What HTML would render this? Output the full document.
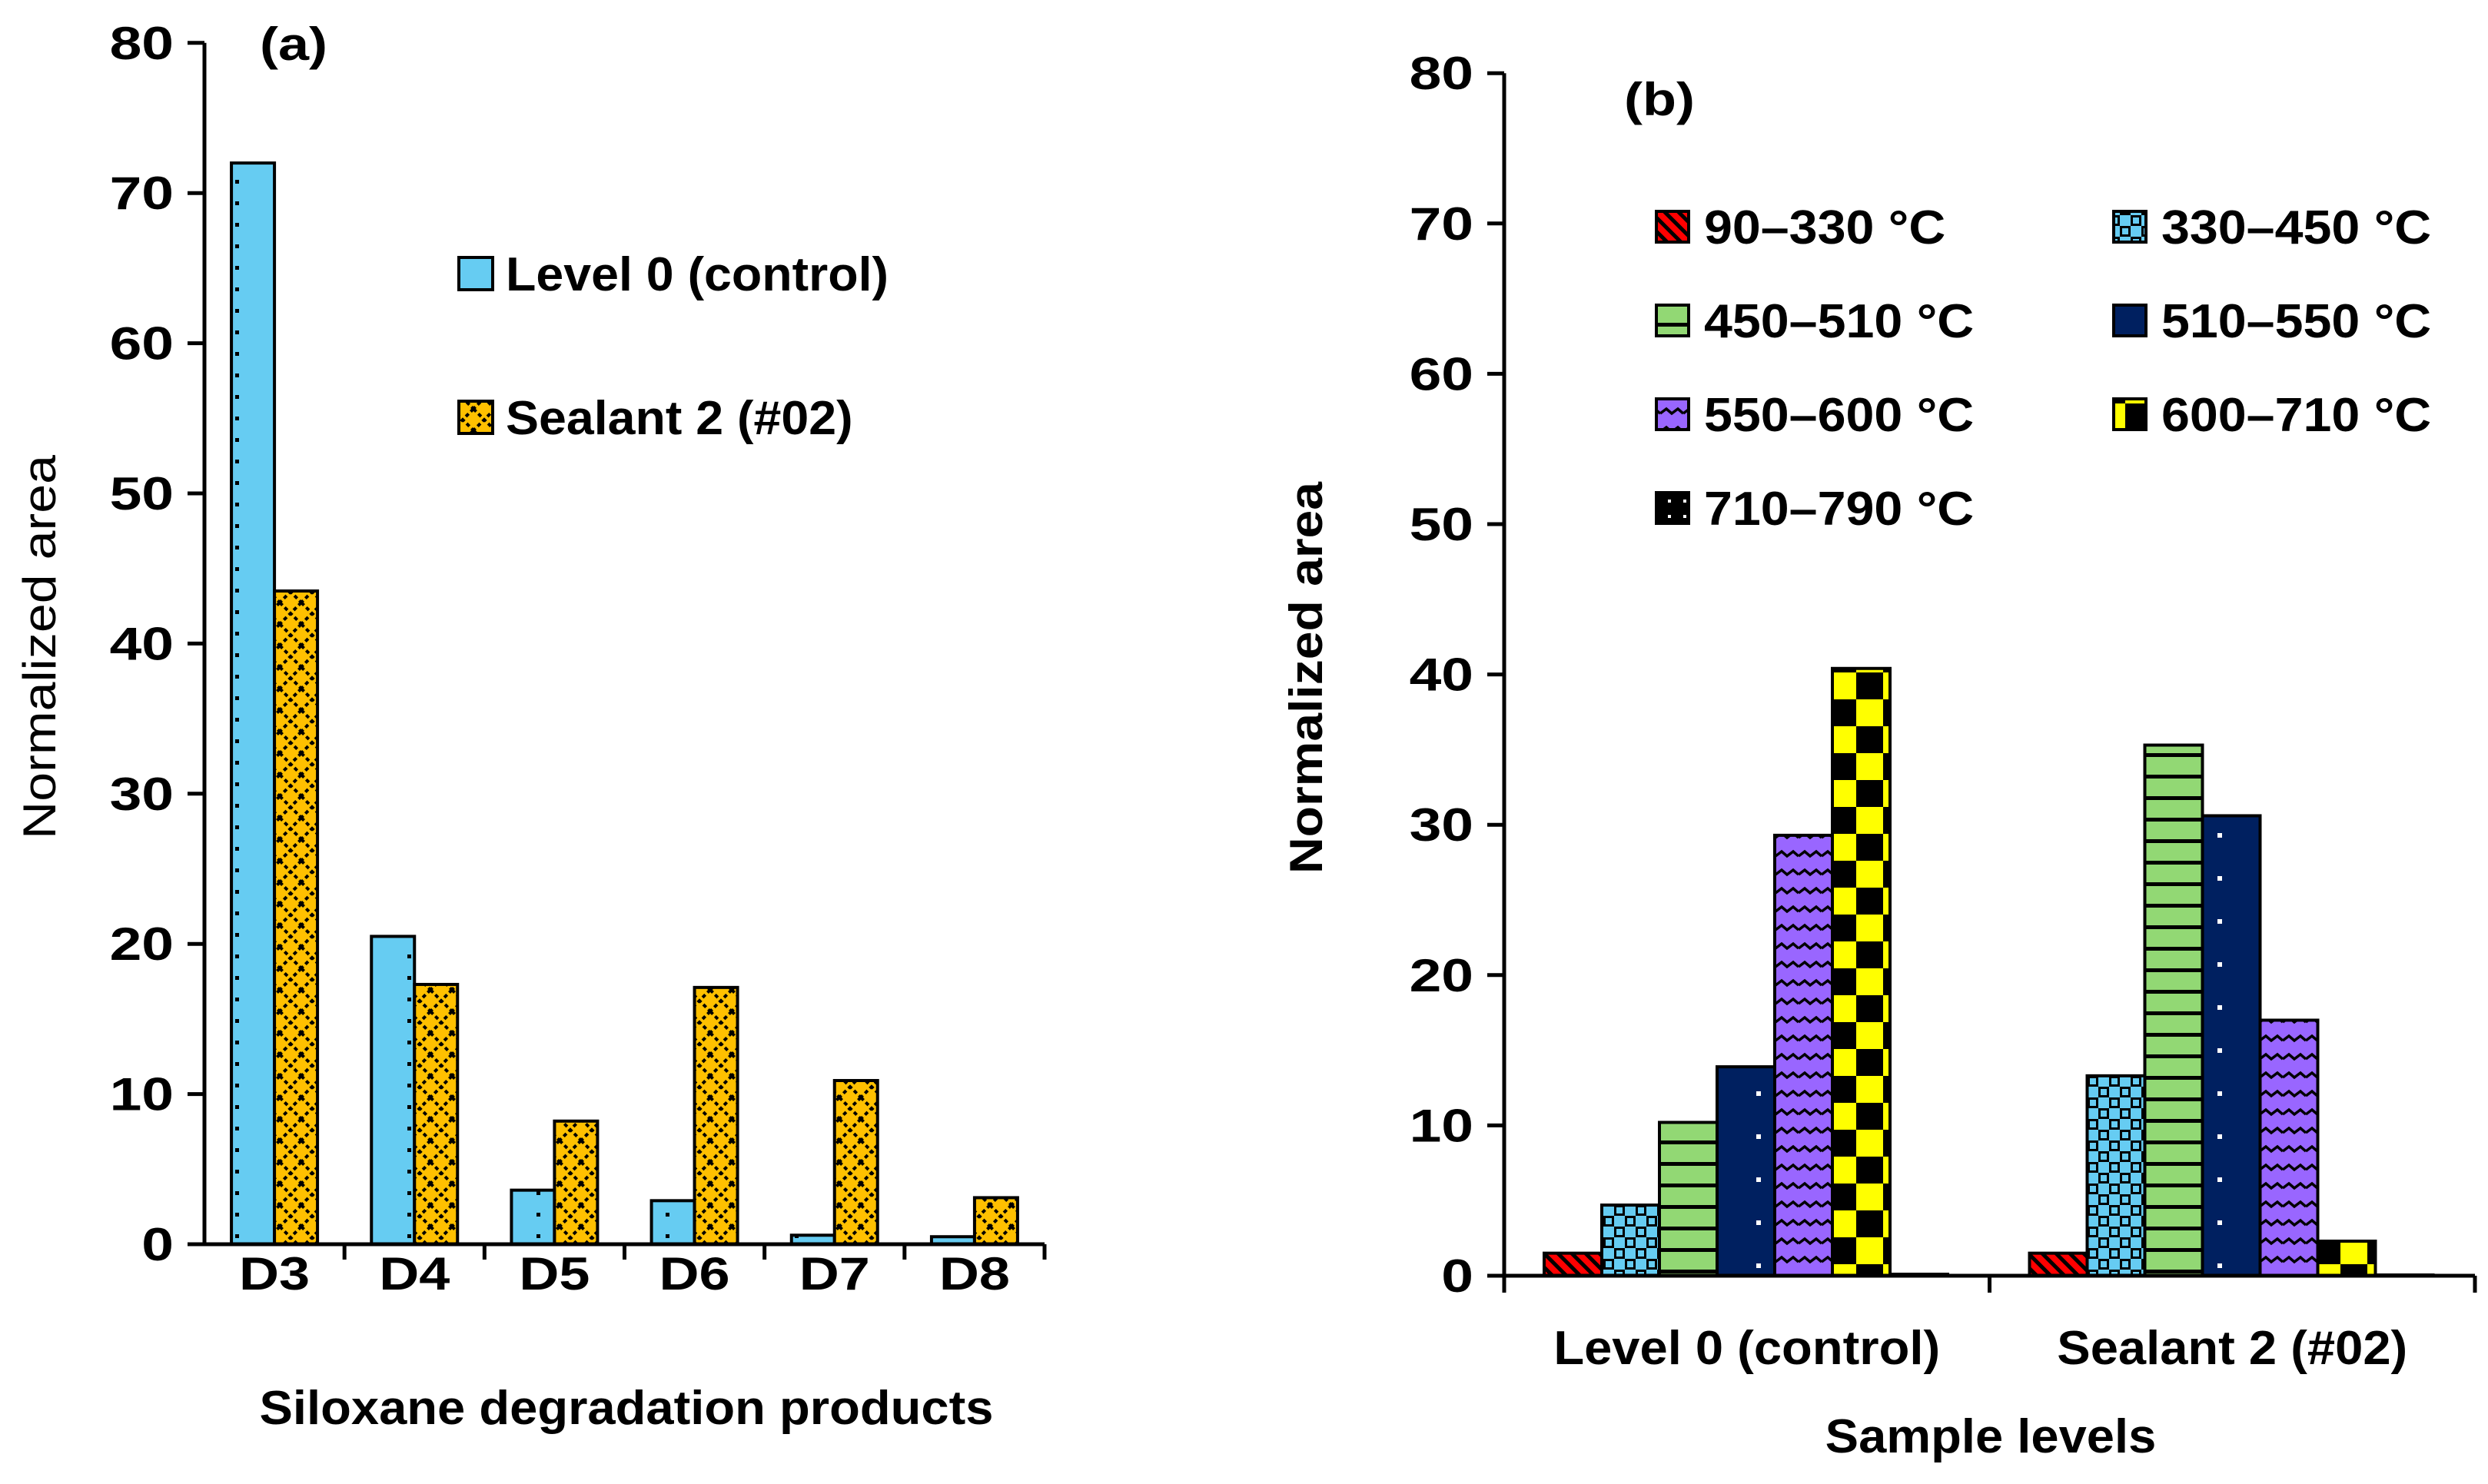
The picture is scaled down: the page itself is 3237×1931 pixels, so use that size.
<!DOCTYPE html>
<html><head><meta charset="utf-8"><style>
body{margin:0;background:#fff}
svg{display:block;font-family:"Liberation Sans",sans-serif;font-weight:bold}
</style></head><body>
<svg id="c" width="3237" height="1931" viewBox="0 0 3237 1931" xmlns="http://www.w3.org/2000/svg">
<defs>
<pattern id="pBlue" width="56" height="56" patternUnits="userSpaceOnUse"><rect width="56" height="56" fill="#66CCF2"/><rect x="26" y="10" width="5" height="5" fill="#000"/><rect x="26" y="38" width="5" height="5" fill="#000"/></pattern>
<pattern id="pOrange" width="28" height="28" patternUnits="userSpaceOnUse"><rect width="28" height="28" fill="#FFC000"/><path d="M0 0L28 28M28 0L0 28" stroke="#000" stroke-width="4" stroke-dasharray="5 4"/></pattern>
<pattern id="pRed" width="18" height="18" patternUnits="userSpaceOnUse"><rect width="18" height="18" fill="#FF0000"/><path d="M0 0L18 18M-9 9L9 27M9 -9L27 9" stroke="#000" stroke-width="5"/></pattern>
<pattern id="pCheck" width="28" height="28" patternUnits="userSpaceOnUse"><rect width="28" height="28" fill="#66CCF2"/><rect width="14" height="14" fill="#000"/><rect x="14" y="14" width="14" height="14" fill="#000"/><rect x="3" y="3" width="8" height="8" fill="#66CCF2"/><rect x="17" y="17" width="8" height="8" fill="#66CCF2"/></pattern>
<pattern id="pGreen" width="75" height="28" patternUnits="userSpaceOnUse"><rect width="75" height="28" fill="#92D874"/><rect y="0" width="75" height="5" fill="#000"/></pattern>
<pattern id="pNavy" width="75" height="56" patternUnits="userSpaceOnUse"><rect width="75" height="56" fill="#002060"/><rect x="35" y="20" width="6" height="6" fill="#fff"/></pattern>
<pattern id="pPurple" width="30" height="24" patternUnits="userSpaceOnUse"><rect width="30" height="24" fill="#9966FF"/><path d="M0 10 L8 4 L15 10 L23 4 L30 10" stroke="#000" stroke-width="3.5" fill="none"/></pattern>
<pattern id="pYellow" width="70" height="70" patternUnits="userSpaceOnUse"><rect width="70" height="70" fill="#FFFF00"/><rect width="35" height="35" fill="#000"/><rect x="35" y="35" width="35" height="35" fill="#000"/></pattern>
<pattern id="pBlack" width="20" height="20" patternUnits="userSpaceOnUse"><rect width="20" height="20" fill="#000"/><rect x="10" y="10" width="4" height="4" fill="#fff"/></pattern>
</defs>
<g id="ga"></g>
<g id="gb"></g>
</svg>
<script>
const aCats=["D3","D4","D5","D6","D7","D8"];
const aLevel0=[72,20.5,3.6,2.9,0.6,0.5];
const aSealant=[43.5,17.3,8.2,17.1,10.9,3.1];
const yTicks=[0,10,20,30,40,50,60,70,80];
const bCats=["Level 0 (control)","Sealant 2 (#02)"];
const bSeriesNames=["90–330 °C","330–450 °C","450–510 °C","510–550 °C","550–600 °C","600–710 °C","710–790 °C"];
const bLevel0=[1.5,4.7,10.2,13.9,29.3,40.4,0.1];
const bSealant=[1.5,13.3,35.3,30.6,17.0,2.3,0.05];

const NS="http://www.w3.org/2000/svg";
function mk(parent,tag,attrs,text){const e=document.createElementNS(NS,tag);for(const k in attrs)e.setAttribute(k,attrs[k]);if(text!==undefined)e.textContent=text;parent.appendChild(e);return e;}
function widen(el,f){const w=el.getComputedTextLength();el.setAttribute('textLength',w*f);el.setAttribute('lengthAdjust','spacingAndGlyphs');return el;}

// Panel A
const ga=document.getElementById('ga');
const aX0=266,aX1=1359,aY0=1619,aPer=19.54;
const ay=v=>aY0-v*aPer;
const aBand=(aX1-aX0)/aCats.length;
const acx=i=>aX0+(i+0.5)*aBand;
yTicks.forEach(t=>{
  const l=mk(ga,'line',{x1:aX0-22,x2:aX0,y1:ay(t),y2:ay(t),stroke:'#000','stroke-width':5});
  
  
  const tx=mk(ga,'text',{x:aX0-40,y:ay(t)+21,'text-anchor':'end','font-size':60},t);
  
  
  widen(tx,1.25);
});
aCats.forEach((c,i)=>{
  const cx=acx(i),w=56;
  const b1=mk(ga,'rect',{x:cx-w,y:ay(aLevel0[i]),width:w,height:aLevel0[i]*aPer,fill:'url(#pBlue)',stroke:'#000','stroke-width':4});
  
  
  const b2=mk(ga,'rect',{x:cx,y:ay(aSealant[i]),width:w,height:aSealant[i]*aPer,fill:'url(#pOrange)',stroke:'#000','stroke-width':4});
  
  
  const tk=mk(ga,'line',{x1:aX0+(i+1)*aBand,x2:aX0+(i+1)*aBand,y1:aY0,y2:aY0+20,stroke:'#000','stroke-width':5});
  
  
  const lb=mk(ga,'text',{x:cx,y:1678,'text-anchor':'middle','font-size':60},c);
  
  
  widen(lb,1.2);
});
mk(ga,'line',{x1:aX0,x2:aX0,y1:ay(80),y2:aY0+2,stroke:'#000','stroke-width':5,});
mk(ga,'line',{x1:aX0-22,x2:aX1,y1:aY0,y2:aY0,stroke:'#000','stroke-width':5,});
widen(mk(ga,'text',{x:338,y:78,'font-size':60,},'(a)'),1.2);
mk(ga,'text',{x:0,y:0,'font-size':60,'font-weight':'normal','text-anchor':'middle',textLength:500,lengthAdjust:'spacingAndGlyphs',transform:'translate(72,842) rotate(-90)',},'Normalized area');
widen(mk(ga,'text',{x:815,y:1853,'font-size':62,'text-anchor':'middle',},'Siloxane degradation products'),1.05);
[['url(#pBlue)','Level 0 (control)',356],['url(#pOrange)','Sealant 2 (#02)',543]].forEach(([f,t,y])=>{
  const g=mk(ga,'g',{});
  
  
  mk(g,'rect',{x:597,y:y-21,width:44,height:42,fill:f,stroke:'#000','stroke-width':4});
  widen(mk(g,'text',{x:658,y:y+22,'font-size':62},t),1.04);
});

// Panel B
const gb=document.getElementById('gb');
const bX0=1957,bX1=3220,bY0=1660,bPer=19.56;
const by=v=>bY0-v*bPer;
const bBand=(bX1-bX0)/bCats.length;
const fills=['url(#pRed)','url(#pCheck)','url(#pGreen)','url(#pNavy)','url(#pPurple)','url(#pYellow)','url(#pBlack)'];
yTicks.forEach(t=>{
  const l=mk(gb,'line',{x1:bX0-22,x2:bX0,y1:by(t),y2:by(t),stroke:'#000','stroke-width':5});
  
  
  const tx=mk(gb,'text',{x:bX0-40,y:by(t)+21,'text-anchor':'end','font-size':60},t);
  
  
  widen(tx,1.25);
});
const bData=[bLevel0,bSealant];
bCats.forEach((c,ci)=>{
  const start=bX0+ci*bBand+52,w=75;
  bData[ci].forEach((v,si)=>{
    const r=mk(gb,'rect',{x:start+si*w,y:by(v),width:w,height:v*bPer,fill:fills[si],stroke:'#000','stroke-width':4});
    
    
  });
  const tk=mk(gb,'line',{x1:bX0+(ci+1)*bBand,x2:bX0+(ci+1)*bBand,y1:bY0,y2:bY0+22,stroke:'#000','stroke-width':5});
  
  
  const lb=mk(gb,'text',{x:bX0+(ci+0.5)*bBand,y:1775,'text-anchor':'middle','font-size':62},c);
  
  
  widen(lb,1.05);
});
mk(gb,'line',{x1:bX0,x2:bX0,y1:by(80),y2:bY0+22,stroke:'#000','stroke-width':5,});
mk(gb,'line',{x1:bX0-22,x2:bX1,y1:bY0,y2:bY0,stroke:'#000','stroke-width':5,});
widen(mk(gb,'text',{x:2113,y:150,'font-size':60,},'(b)'),1.2);
mk(gb,'text',{x:0,y:0,'font-size':60,'text-anchor':'middle',textLength:510,lengthAdjust:'spacingAndGlyphs',transform:'translate(1720,882) rotate(-90)',},'Normalized area');
widen(mk(gb,'text',{x:2590,y:1890,'font-size':62,'text-anchor':'middle',},'Sample levels'),1.05);
bSeriesNames.forEach((n,i)=>{
  const col=i%2,row=Math.floor(i/2);
  const sx=col?2750:2155, cy=295+row*122;
  const g=mk(gb,'g',{});
  
  
  mk(g,'rect',{x:sx,y:cy-20,width:42,height:40,fill:fills[i],stroke:'#000','stroke-width':4});
  widen(mk(g,'text',{x:sx+62,y:cy+22,'font-size':62},n),1.07);
});
</script>
</body></html>
